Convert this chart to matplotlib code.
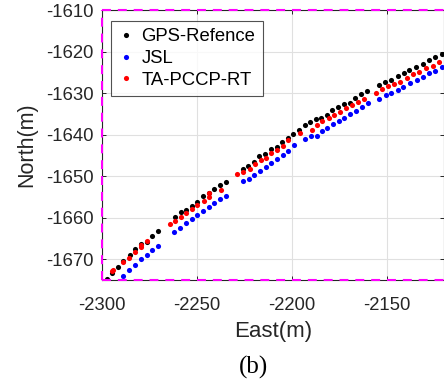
import matplotlib
matplotlib.use("Agg")
import matplotlib.pyplot as plt

plt.rcParams["font.family"] = ["Liberation Sans", "DejaVu Sans"]
plt.rcParams["axes.unicode_minus"] = False

# GPS reference track (East, North) [m]
gps_east = [-2297.6, -2294.6, -2291.7, -2288.7, -2285.5, -2282.5, -2279.6, -2276.6, -2273.6, -2270.3,
            -2261.5, -2258.6, -2255.6, -2252.8, -2249.8, -2246.9, -2243.9, -2241.1, -2238.1, -2235.0,
            -2226.1, -2223.1, -2220.1, -2217.2, -2214.2, -2211.2, -2208.2, -2205.2, -2202.3, -2199.5,
            -2196.5, -2193.4, -2190.6, -2187.6, -2184.8, -2181.8, -2178.9, -2175.9, -2172.9, -2169.8,
            -2166.8, -2163.7, -2160.5,
            -2154.5, -2151.4, -2148.1, -2144.6, -2141.4, -2138.4, -2135.1, -2131.1, -2128.0, -2124.8,
            -2121.3]
gps_north = [-1674.7, -1673.3, -1671.9, -1670.5, -1669.0, -1667.6, -1666.3, -1665.8, -1664.3, -1663.2,
             -1659.9, -1658.7, -1658.1, -1657.2, -1656.3, -1654.7, -1654.1, -1653.2, -1652.1, -1651.3,
             -1648.3, -1647.5, -1646.5, -1645.1, -1644.6, -1643.5, -1642.9, -1641.8, -1640.8, -1639.9,
             -1638.9, -1637.7, -1637.0, -1636.3, -1636.0, -1635.3, -1634.1, -1633.4, -1632.7, -1632.4,
             -1631.1, -1630.3, -1629.4,
             -1628.1, -1627.3, -1626.9, -1625.8, -1625.2, -1624.5, -1623.8, -1623.1, -1622.0, -1621.4,
             -1620.7]

# JSL estimate
jsl_east = [-2288.7, -2285.7, -2282.5, -2279.6, -2276.6, -2273.5, -2270.6,
            -2261.9, -2258.8, -2255.8, -2252.8, -2249.8, -2246.8, -2243.9, -2240.9, -2238.0, -2235.0,
            -2225.9, -2222.9, -2219.9, -2216.8, -2214.0, -2211.0, -2208.0, -2205.1, -2202.1, -2199.1,
            -2193.3, -2190.2, -2187.0, -2184.3, -2181.5, -2178.5, -2175.5, -2172.6, -2169.6, -2166.4,
            -2163.3, -2160.3,
            -2154.2, -2150.8, -2147.8, -2144.6, -2141.5, -2138.1, -2134.6, -2131.4, -2128.0, -2124.8,
            -2121.3]
jsl_north = [-1674.0, -1672.6, -1671.5, -1670.0, -1669.0, -1667.8, -1666.7,
             -1663.4, -1662.5, -1661.3, -1660.4, -1659.3, -1658.3, -1657.4, -1656.5, -1655.6, -1654.8,
             -1651.2, -1650.7, -1649.7, -1648.8, -1647.9, -1646.8, -1645.9, -1645.0, -1644.0, -1642.5,
             -1641.1, -1640.3, -1640.3, -1639.2, -1638.3, -1637.5, -1636.7, -1635.9, -1635.1, -1634.3,
             -1633.3, -1632.5,
             -1631.4, -1630.5, -1630.1, -1629.3, -1628.5, -1627.6, -1626.8, -1626.2, -1625.1, -1624.8,
             -1623.8]

# TA-PCCP-RT estimate
ta_east = [-2295.0, -2294.2, -2288.7, -2285.7, -2282.5, -2279.6, -2279.4, -2276.2,
           -2264.4, -2261.4, -2258.6, -2255.6, -2252.8, -2249.8, -2246.5, -2243.5, -2243.5, -2237.6,
           -2228.9, -2225.7, -2222.4, -2219.4, -2216.5, -2213.6, -2211.0, -2208.0, -2205.1, -2202.1,
           -2196.1, -2189.7, -2186.9, -2184.1, -2180.9, -2177.8, -2174.8, -2171.7, -2168.5, -2165.4,
           -2162.4,
           -2155.9, -2152.8, -2149.6, -2146.5, -2143.3, -2139.8, -2136.7, -2133.2, -2129.7, -2126.2,
           -2122.7]
ta_north = [-1672.9, -1672.5, -1670.7, -1669.8, -1668.3, -1667.0, -1666.6, -1665.6,
            -1661.6, -1660.8, -1659.8, -1658.9, -1658.0, -1656.9, -1655.9, -1655.1, -1654.0, -1653.3,
            -1649.6, -1649.1, -1648.3, -1647.1, -1646.2, -1645.7, -1644.5, -1643.7, -1642.8, -1641.3,
            -1639.6, -1638.8, -1637.7, -1636.8, -1636.1, -1635.3, -1634.6, -1633.5, -1632.9, -1632.1,
            -1631.4,
            -1629.9, -1628.9, -1628.4, -1627.8, -1627.3, -1626.3, -1625.5, -1625.0, -1623.9, -1623.5,
            -1622.6]

xticks = [-2300, -2250, -2200, -2150]
yticks = [-1670, -1660, -1650, -1640, -1630, -1620, -1610]
XLIM = (-2300, -2120.4)
YLIM = (-1675, -1610)

fig = plt.figure(figsize=(4.44, 3.83), dpi=100)
ax = fig.add_axes([102 / 444, 1 - 280 / 383, 341.6 / 444, 270 / 383])

dk = "#262626"
ms = 3.7
ax.plot(gps_east, gps_north, "o", color="k", ms=ms, mew=0, label="GPS-Refence", zorder=3)
ax.plot(jsl_east, jsl_north, "o", color="#0000ff", ms=ms, mew=0, label="JSL", zorder=3)
ax.plot(ta_east, ta_north, "o", color="#ff0000", ms=ms, mew=0, label="TA-PCCP-RT", zorder=4)

ax.set_xlim(*XLIM); ax.set_ylim(*YLIM)
ax.set_xticks(xticks); ax.set_yticks(yticks)
ax.grid(True, color="#e0e0e0", lw=0.8)
ax.set_axisbelow(True)
ax.tick_params(direction="in", length=3, width=0.7, colors=dk, labelsize=13.3,
               top=True, right=True)
ax.tick_params(axis="x", pad=12)
ax.tick_params(axis="y", pad=6)
for s in ax.spines.values():
    s.set_color(dk); s.set_linewidth(0.8)

ax.set_xlabel("East(m)", fontsize=16, color=dk, labelpad=5.5)
ax.set_ylabel("North(m)", fontsize=15.5, color=dk, labelpad=6)

# magenta dashed frame
dash = (0, (4.3, 3.3))
kw = dict(color="#ff00ff", lw=1.5, ls=dash, clip_on=False, zorder=6)
ax.plot([XLIM[0], XLIM[1]], [YLIM[1], YLIM[1]], **kw)
ax.plot([XLIM[0], XLIM[1]], [YLIM[0], YLIM[0]], **kw)
ax.plot([XLIM[0], XLIM[0]], [YLIM[0], YLIM[1]], **kw)

leg = ax.legend(loc="upper left", bbox_to_anchor=(0.026, 0.959), borderaxespad=0,
                fontsize=13.3, frameon=True, fancybox=False, handlelength=0.8,
                handletextpad=0.45, labelspacing=0.25, borderpad=0.4, markerscale=1.0)
leg.get_frame().set_edgecolor(dk)
leg.get_frame().set_linewidth(0.8)
for t in leg.get_texts():
    t.set_color("k")

fig.text(253 / 444, 1 - 367.5 / 383, "(b)", family="Liberation Serif", fontsize=18,
         ha="center", va="center", color="k")

fig.savefig("out.png", dpi=100)
